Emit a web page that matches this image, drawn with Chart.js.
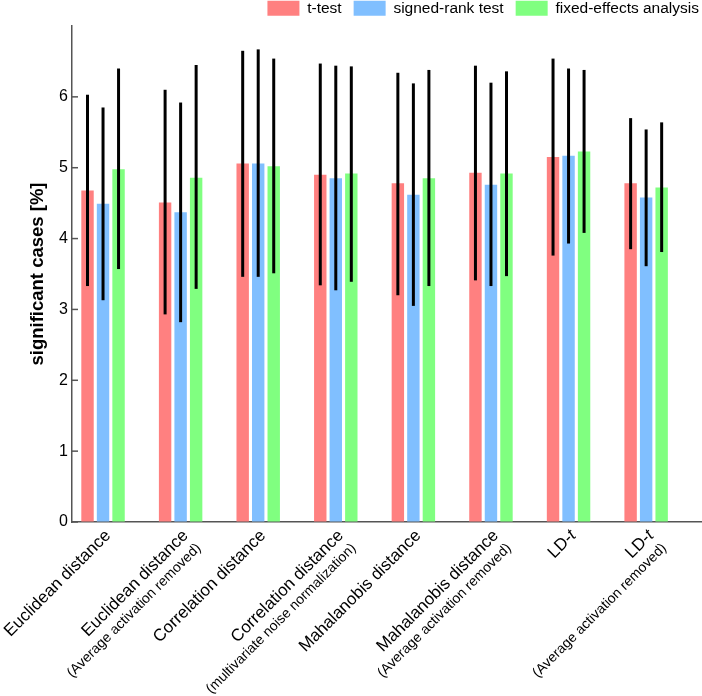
<!DOCTYPE html>
<html>
<head>
<meta charset="utf-8">
<script src="https://cdn.jsdelivr.net/npm/chart.js@4.4.0/dist/chart.umd.min.js"></script>
<style>
  html, body { margin: 0; padding: 0; background: #fff; overflow: hidden; }
  #wrap { position: relative; width: 702px; height: 696px; }
</style>
</head>
<body>
<div id="wrap"><canvas id="chart"></canvas></div>
<script>
// categories: first line large, optional second line small
const categories = [
  ['Euclidean distance'],
  ['Euclidean distance', '(Average activation removed)'],
  ['Correlation distance'],
  ['Correlation distance', '(multivariate noise normalization)'],
  ['Mahalanobis distance'],
  ['Mahalanobis distance', '(Average activation removed)'],
  ['LD-t'],
  ['LD-t', '(Average activation removed)']
];
const seriesNames = ['t-test', 'signed-rank test', 'fixed-effects analysis'];

const tTest = [4.68, 4.51, 5.06, 4.90, 4.78, 4.93, 5.15, 4.78];
const tTestLow = [3.33, 2.93, 3.46, 3.34, 3.20, 3.41, 3.76, 3.85];
const tTestHigh = [6.03, 6.10, 6.65, 6.47, 6.34, 6.44, 6.54, 5.70];

const signedRank = [4.49, 4.37, 5.06, 4.85, 4.62, 4.76, 5.17, 4.58];
const signedRankLow = [3.13, 2.82, 3.46, 3.27, 3.05, 3.33, 3.93, 3.61];
const signedRankHigh = [5.85, 5.92, 6.67, 6.44, 6.19, 6.20, 6.40, 5.54];

const fixedEffects = [4.98, 4.86, 5.02, 4.92, 4.85, 4.92, 5.23, 4.72];
const fixedEffectsLow = [3.57, 3.29, 3.51, 3.39, 3.33, 3.47, 4.08, 3.81];
const fixedEffectsHigh = [6.40, 6.45, 6.54, 6.43, 6.38, 6.36, 6.38, 5.64];

const yTicks = [0, 1, 2, 3, 4, 5, 6];

const FONT = '"Liberation Sans", Arial, Helvetica, sans-serif';
const AXIS = '#555';
Chart.defaults.font.family = FONT;

const colors = ['rgb(255,128,128)', 'rgb(128,191,255)', 'rgb(128,255,128)'];
const values = [tTest, signedRank, fixedEffects];
const lows = [tTestLow, signedRankLow, fixedEffectsLow];
const highs = [tTestHigh, signedRankHigh, fixedEffectsHigh];

// black error bars, no caps
const errorBars = {
  id: 'errorBars',
  afterDatasetsDraw(chart) {
    const {ctx} = chart;
    const y = chart.scales.y;
    ctx.save();
    ctx.strokeStyle = '#000';
    ctx.lineWidth = 3;
    chart.data.datasets.forEach((ds, k) => {
      chart.getDatasetMeta(k).data.forEach((bar, i) => {
        ctx.beginPath();
        ctx.moveTo(bar.x, y.getPixelForValue(ds.errLow[i]));
        ctx.lineTo(bar.x, y.getPixelForValue(ds.errHigh[i]));
        ctx.stroke();
      });
    });
    ctx.restore();
  }
};

// matlab style ticks pointing into the plot
const innerTicks = {
  id: 'innerTicks',
  afterDraw(chart) {
    const {ctx, chartArea} = chart;
    const y = chart.scales.y;
    ctx.save();
    ctx.strokeStyle = AXIS;
    ctx.lineWidth = 1.5;
    yTicks.forEach(v => {
      const py = y.getPixelForValue(v);
      ctx.beginPath();
      ctx.moveTo(chartArea.left, py);
      ctx.lineTo(chartArea.left + 6, py);
      ctx.stroke();
    });
    ctx.restore();
  }
};

function drawRight(ctx, text, x, y, size) {
  // trailing "-t" is set in italics (LD-t)
  if (/-t$/.test(text)) {
    ctx.font = 'italic ' + size + 'px ' + FONT;
    ctx.fillText('t', x, y);
    const w = ctx.measureText('t').width;
    ctx.font = size + 'px ' + FONT;
    ctx.fillText(text.slice(0, -1), x - w, y);
  } else {
    ctx.font = size + 'px ' + FONT;
    ctx.fillText(text, x, y);
  }
}

// rotated two-size category labels
const xLabels = {
  id: 'xLabels',
  afterDraw(chart) {
    const {ctx, chartArea} = chart;
    const x = chart.scales.x;
    categories.forEach((lines, i) => {
      ctx.save();
      ctx.translate(x.getPixelForValue(i) - 1, chartArea.bottom + 5);
      ctx.rotate(-Math.PI / 4);
      ctx.textAlign = 'right';
      ctx.textBaseline = 'top';
      ctx.fillStyle = '#000';
      drawRight(ctx, lines[0], 0, 0, 17);
      if (lines[1]) drawRight(ctx, lines[1], 0, 20, 14);
      ctx.restore();
    });
  }
};

new Chart(document.getElementById('chart'), {
  type: 'bar',
  data: {
    datasets: values.map((vals, k) => ({
      label: seriesNames[k],
      data: vals.map((v, i) => ({x: i, y: v})),
      backgroundColor: colors[k],
      borderWidth: 0,
      categoryPercentage: 0.6,
      barPercentage: 0.8,
      errLow: lows[k],
      errHigh: highs[k]
    }))
  },
  options: {
    responsive: true,
    maintainAspectRatio: false,
    animation: false,
    layout: {padding: {top: -11.5, right: -9, bottom: 174, left: 0}},
    plugins: {
      legend: {
        position: 'top',
        align: 'end',
        labels: {
          boxWidth: 32,
          boxHeight: 15,
          padding: 12,
          color: '#000',
          font: {size: 15.5}
        }
      },
      tooltip: {enabled: false}
    },
    scales: {
      x: {
        type: 'linear',
        offset: false,
        min: -0.4,
        max: 7.72,
        afterBuildTicks(scale) {
          scale.ticks = categories.map((c, i) => ({value: i}));
        },
        grid: {display: false, drawTicks: false},
        ticks: {display: false},
        border: {color: AXIS, width: 1.5}
      },
      y: {
        min: 0,
        max: 7,
        ticks: {
          stepSize: 1,
          padding: 4,
          color: '#000',
          font: {size: 16},
          callback: v => yTicks.includes(v) ? v : ''
        },
        grid: {drawOnChartArea: false, drawTicks: false},
        border: {color: AXIS, width: 1.5},
        title: {
          display: true,
          text: 'significant cases [%]',
          color: '#000',
          font: {size: 18.5, weight: 'bold'},
          padding: {top: 27, bottom: 0}
        },
        afterFit(scale) { scale.width = 72; }
      }
    }
  },
  plugins: [errorBars, innerTicks, xLabels]
});
</script>
</body>
</html>
